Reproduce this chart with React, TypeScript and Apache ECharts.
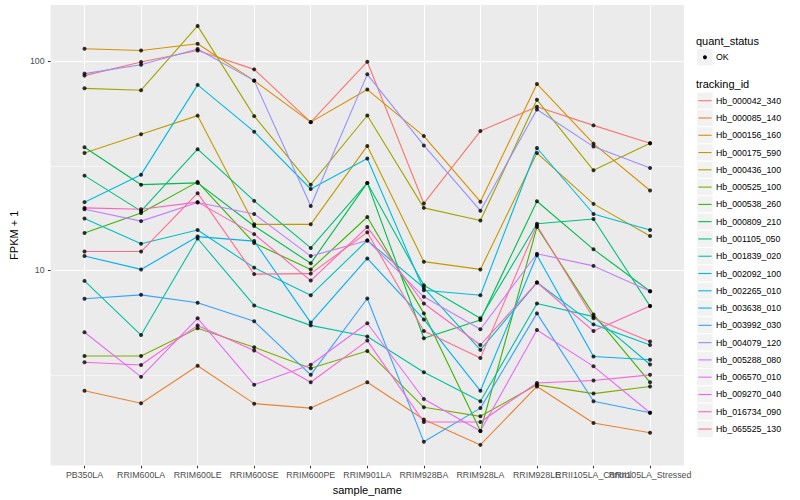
import React, { useEffect, useRef } from "react";
import * as echarts from "echarts";

// ---- categories (x) ----
const sampleNames = [
  "PB350LA", "RRIM600LA", "RRIM600LE", "RRIM600SE", "RRIM600PE", "RRIM901LA",
  "RRIM928BA", "RRIM928LA", "RRIM928LE", "RRII105LA_Control", "RRII105LA_Stressed",
];

// ---- series names and colours ----
const trackingIds = [
  "Hb_000042_340", "Hb_000085_140", "Hb_000156_160", "Hb_000175_590", "Hb_000436_100",
  "Hb_000525_100", "Hb_000538_260", "Hb_000809_210", "Hb_001105_050", "Hb_001839_020",
  "Hb_002092_100", "Hb_002265_010", "Hb_003638_010", "Hb_003992_030", "Hb_004079_120",
  "Hb_005288_080", "Hb_006570_010", "Hb_009270_040", "Hb_016734_090", "Hb_065525_130",
];
const trackColors = [
  "#F8766D", "#EA8331", "#D89000", "#C09B00", "#A3A500", "#7CAE00", "#39B600", "#00BB4E",
  "#00BF7D", "#00C1A3", "#00BFC4", "#00BAE0", "#00B0F6", "#35A2FF", "#9590FF", "#C77CFF",
  "#E76BF3", "#FA62DB", "#FF62BC", "#FF6C91",
];

// ---- FPKM + 1 values per tracking_id (one per sample) ----
const Hb_000042_340 = [85.5, 99.3, 112.8, 91.6, 51.2, 99.7, 20.9, 46.4, 60.7, 49.4, 40.6];
const Hb_000085_140 = [2.65, 2.31, 3.49, 2.3, 2.19, 2.91, 1.93, 1.46, 2.78, 1.86, 1.67];
const Hb_000156_160 = [115.0, 112.8, 121.4, 80.9, 51.2, 73.3, 43.9, 21.3, 78.0, 40.4, 24.1];
const Hb_000175_590 = [36.4, 44.8, 55.0, 16.6, 16.6, 39.4, 11.0, 10.1, 36.4, 20.8, 14.6];
const Hb_000436_100 = [74.3, 72.8, 147.9, 54.7, 25.7, 55.1, 19.9, 17.3, 65.5, 30.1, 40.6];
const Hb_000525_100 = [3.89, 3.89, 5.28, 4.28, 3.4, 4.11, 2.21, 2.0, 2.83, 2.57, 2.78];
const Hb_000538_260 = [15.1, 18.8, 26.5, 13.5, 10.1, 18.0, 6.22, 1.7, 16.1, 6.15, 2.91];
const Hb_000809_210 = [38.8, 25.7, 26.2, 16.3, 10.8, 26.2, 4.73, 5.78, 21.4, 12.6, 7.94];
const Hb_001105_050 = [28.4, 19.2, 38.0, 21.5, 12.8, 26.2, 8.48, 5.89, 16.7, 17.6, 6.74];
const Hb_001839_020 = [8.9, 4.9, 14.2, 6.79, 5.45, 4.82, 3.25, 2.36, 6.94, 6.0, 3.54];
const Hb_002092_100 = [17.7, 13.4, 15.6, 10.3, 7.6, 13.9, 8.25, 4.16, 8.74, 5.51, 4.39];
const Hb_002265_010 = [21.2, 28.7, 77.2, 46.1, 24.5, 34.3, 8.03, 7.6, 38.5, 18.6, 15.6];
const Hb_003638_010 = [11.7, 10.1, 14.5, 13.8, 5.62, 11.4, 5.82, 2.65, 11.8, 3.87, 3.73];
const Hb_003992_030 = [7.31, 7.63, 7.0, 5.7, 3.16, 7.33, 1.51, 2.19, 6.22, 2.36, 2.08];
const Hb_004079_120 = [87.4, 96.4, 114.6, 80.9, 20.3, 86.7, 39.6, 19.3, 58.9, 39.1, 30.9];
const Hb_005288_080 = [19.6, 17.2, 21.1, 18.6, 11.7, 13.9, 7.47, 5.22, 12.0, 10.5, 7.94];
const Hb_006570_010 = [5.05, 3.09, 5.89, 2.83, 3.53, 5.58, 2.42, 1.7, 5.18, 3.47, 2.08];
const Hb_009270_040 = [3.63, 3.52, 5.45, 4.13, 2.91, 4.61, 1.88, 1.88, 2.89, 2.97, 3.16];
const Hb_016734_090 = [19.9, 19.6, 21.2, 14.9, 8.93, 16.1, 6.94, 4.39, 8.74, 5.12, 6.74];
const Hb_065525_130 = [12.3, 12.3, 23.4, 9.59, 9.64, 15.2, 5.12, 3.8, 16.4, 5.89, 4.56];

const seriesValues = [
  Hb_000042_340, Hb_000085_140, Hb_000156_160, Hb_000175_590, Hb_000436_100,
  Hb_000525_100, Hb_000538_260, Hb_000809_210, Hb_001105_050, Hb_001839_020,
  Hb_002092_100, Hb_002265_010, Hb_003638_010, Hb_003992_030, Hb_004079_120,
  Hb_005288_080, Hb_006570_010, Hb_009270_040, Hb_016734_090, Hb_065525_130,
];

// ---- axis breaks ----
const yMinorBreaks = [3.1623, 31.623];
const yLimits = [1.162, 186.2];
const xLimits = [-0.6, 10.6];
const quantStatus = ["OK"];

const FONT = "'Liberation Sans', Arial, Helvetica, sans-serif";

export default function App() {
  const ref = useRef<HTMLDivElement>(null);

  useEffect(() => {
    if (!ref.current) return;
    const chart = echarts.init(ref.current, undefined, { renderer: "svg" });

    const xIdx = sampleNames.map((_, i) => i);
    // padded with the axis limits so that the first/last real labels are never dropped
    const xLabelValues = [xLimits[0], ...xIdx, xLimits[1]];

    const lineSeries = trackingIds.map((id, k) => ({
      type: "line",
      name: id,
      data: seriesValues[k].map((v, i) => [i, v]),
      showSymbol: false,
      symbol: "none",
      lineStyle: { color: trackColors[k], width: 1.1 },
      itemStyle: { color: trackColors[k] },
      z: 3,
      silent: true,
    }));

    const points: number[][] = [];
    seriesValues.forEach((vals) => vals.forEach((v, i) => points.push([i, v])));

    const pointSeries = {
      type: "scatter",
      name: quantStatus[0],
      data: points,
      symbol: "circle",
      symbolSize: 4,
      itemStyle: { color: "#000000" },
      z: 5,
      silent: true,
      markLine: {
        silent: true,
        z: 1,
        symbol: ["none", "none"],
        label: { show: false },
        data: [
          ...xIdx.map((i) => ({ xAxis: i, lineStyle: { color: "#FFFFFF", width: 1.07, type: "solid" } })),
          ...yMinorBreaks.map((v) => ({ yAxis: v, lineStyle: { color: "#FFFFFF", width: 0.53, type: "solid" } })),
        ],
      },
    };

    // legend drawn as graphic keys (ggplot style)
    const legendX = 696.7;
    const keyW = 16.5;
    const keyH = 17.28;
    const firstCenter = 100.7;
    const graphics: any[] = [
      {
        type: "text", x: 696, y: 40.7,
        style: { text: "quant_status", fill: "#000", fontSize: 11, fontFamily: FONT, verticalAlign: "middle", align: "left" },
      },
      {
        type: "rect", shape: { x: legendX, y: 57.2 - keyH / 2, width: keyW, height: keyH },
        style: { fill: "#F2F2F2", stroke: "#FFFFFF", lineWidth: 1 },
      },
      { type: "circle", shape: { cx: legendX + keyW / 2, cy: 57.2, r: 2 }, style: { fill: "#000" } },
      {
        type: "text", x: 716, y: 57.2,
        style: { text: quantStatus[0], fill: "#000", fontSize: 8.8, fontFamily: FONT, verticalAlign: "middle", align: "left" },
      },
      {
        type: "text", x: 696, y: 84.3,
        style: { text: "tracking_id", fill: "#000", fontSize: 11, fontFamily: FONT, verticalAlign: "middle", align: "left" },
      },
    ];
    trackingIds.forEach((id, k) => {
      const cy = firstCenter + keyH * k;
      graphics.push({
        type: "rect", shape: { x: legendX, y: cy - keyH / 2, width: keyW, height: keyH },
        style: { fill: "#F2F2F2", stroke: "#FFFFFF", lineWidth: 1 },
      });
      graphics.push({
        type: "line", shape: { x1: legendX + 1.6, y1: cy, x2: legendX + keyW - 1.6, y2: cy },
        style: { stroke: trackColors[k], lineWidth: 1.1 },
      });
      graphics.push({
        type: "text", x: 716, y: cy,
        style: { text: id, fill: "#000", fontSize: 8.8, fontFamily: FONT, verticalAlign: "middle", align: "left" },
      });
    });

    chart.setOption({
      animation: false,
      backgroundColor: "#FFFFFF",
      textStyle: { fontFamily: FONT },
      grid: {
        left: 40, top: 5, width: 644, height: 463,
        show: true, backgroundColor: "#EBEBEB", borderWidth: 0, containLabel: false,
      },
      xAxis: {
        type: "value",
        min: xLimits[0],
        max: xLimits[1],
        axisLine: { show: false, onZero: false },
        axisTick: { show: true, customValues: xIdx, length: 2.7, lineStyle: { color: "#333333", width: 1.07 } },
        axisLabel: {
          customValues: xLabelValues,
          showMinLabel: false,
          showMaxLabel: false,
          hideOverlap: false,
          formatter: (v: number) => {
            const r = Math.round(v);
            return Math.abs(v - r) < 1e-6 && sampleNames[r] !== undefined ? sampleNames[r] : "";
          },
          color: "#4D4D4D", fontSize: 8.8, margin: 4.5, fontFamily: FONT,
        },
        splitLine: { show: false },
        name: "sample_name",
        nameLocation: "middle",
        nameGap: 14.5,
        nameTextStyle: { color: "#000000", fontSize: 11, fontFamily: FONT },
      },
      yAxis: {
        type: "log",
        logBase: 10,
        min: yLimits[0],
        max: yLimits[1],
        axisLine: { show: false, onZero: false },
        axisTick: { show: true, length: 2.7, lineStyle: { color: "#333333", width: 1.07 } },
        axisLabel: {
          showMinLabel: false,
          showMaxLabel: false,
          formatter: (v: number) => {
            const l = Math.log10(v);
            return Math.abs(l - Math.round(l)) < 1e-6 ? String(Math.round(v)) : "";
          },
          color: "#4D4D4D", fontSize: 8.8, margin: 6, fontFamily: FONT,
        },
        splitLine: { show: true, showMinLine: false, showMaxLine: false, lineStyle: { color: "#FFFFFF", width: 1.07 } },
        name: "FPKM + 1",
        nameLocation: "middle",
        nameGap: 22,
        nameTextStyle: { color: "#000000", fontSize: 11, fontFamily: FONT },
      },
      series: [...lineSeries, pointSeries],
      graphic: graphics,
    } as any);

    return () => chart.dispose();
  }, []);

  return (
    <div
      ref={ref}
      style={{ position: "fixed", left: 0, top: 0, width: 800, height: 500, background: "#fff" }}
    />
  );
}
